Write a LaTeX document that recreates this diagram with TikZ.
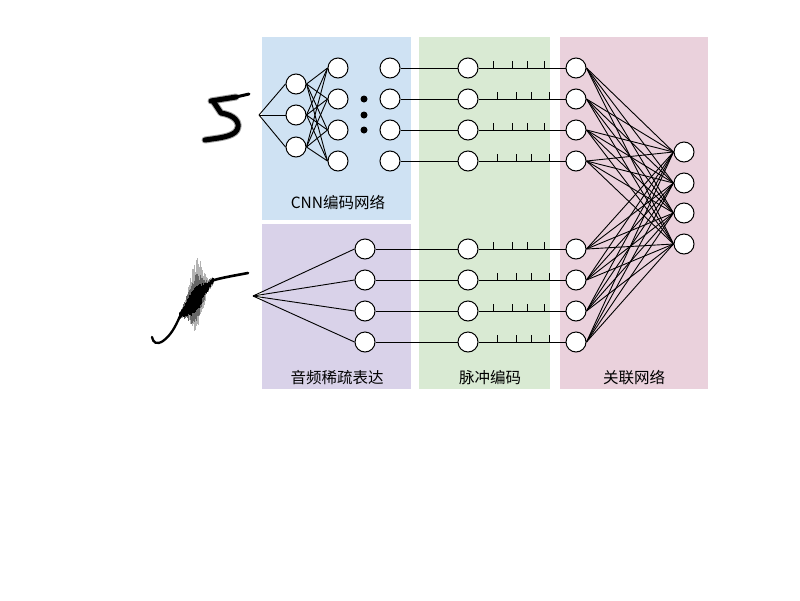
\documentclass[tikz,border=0pt]{standalone}
\usepackage{fontspec}
\setmainfont{Noto Sans CJK SC}
\definecolor{cnnblue}{HTML}{CFE2F3}
\definecolor{audpurple}{HTML}{D9D2E9}
\definecolor{spkgreen}{HTML}{D9EAD3}
\definecolor{assocpink}{HTML}{EAD1DC}
\begin{document}
\begin{tikzpicture}[x=1pt,y=-1pt,
  neuron/.style={circle,draw,fill=white,minimum size=20pt,inner sep=0pt,line width=1pt},
  dotn/.style={circle,fill=black,minimum size=7pt,inner sep=0pt},
  wire/.style={line width=0.9pt},
  lbl/.style={font=\fontsize{15.5}{18}\selectfont,inner sep=0pt},
  ink/.style={line cap=round,line join=round}]
\useasboundingbox (0,0) rectangle (800,600);
% panels
\fill[cnnblue] (262,37) rectangle (411,220);
\fill[audpurple] (262,224) rectangle (411,389);
\fill[spkgreen] (419,37) rectangle (550,389);
\fill[assocpink] (560,37) rectangle (708,389);
% labels
\node[lbl] (tcnn) at (338,202) {CNN编码网络};
\node[lbl] (taud) at (337,378) {音频稀疏表达};
\node[lbl] (tspk) at (490,378) {脉冲编码};
\node[lbl] (tass) at (634,378) {关联网络};
% neurons
\foreach \y [count=\i] in {84,115,147} \node[neuron] (a\i) at (296,\y) {};
\foreach \y [count=\i] in {68,99,130,161} \node[neuron] (b\i) at (338,\y) {};
\foreach \y [count=\i] in {99,115,130} \node[dotn] (e\i) at (364,\y) {};
\foreach \y [count=\i] in {68,99,130,161} \node[neuron] (c\i) at (390,\y) {};
\foreach \y [count=\i] in {249,280,311,342} \node[neuron] (d\i) at (365,\y) {};
\foreach \y [count=\i] in {68,99,130,161,249,280,311,342} \node[neuron] (g\i) at (468,\y) {};
\foreach \y [count=\i] in {68,99,130,161,249,280,311,342} \node[neuron] (p\i) at (576,\y) {};
\foreach \y [count=\i] in {152,183,213,244} \node[neuron] (o\i) at (684,\y) {};
\coordinate (fimg) at (259,115);
\coordinate (faud) at (253,296);
% connections
\foreach \i in {1,2,3} \draw[wire] (fimg) -- (a\i.west);
\foreach \i in {1,2,3} \foreach \j in {1,...,4} \draw[wire] (a\i.east) -- (b\j.west);
\foreach \i in {1,...,4} \draw[wire] (faud) -- (d\i.west);
\foreach \i in {1,...,4} \draw[wire] (c\i.east) -- (g\i.west);
\foreach \i [evaluate=\i as \k using int(\i+4)] in {1,...,4} \draw[wire] (d\i.east) -- (g\k.west);
\foreach \i in {1,...,8} \draw[wire] (g\i.east) -- (p\i.west);
\foreach \i in {1,...,8} \foreach \j in {1,...,4} \draw[wire] (p\i.east) -- (o\j.west);
% spike ticks
\foreach \y [count=\i] in {68,99,130,161,249,280,311,342} {
  \pgfmathtruncatemacro\odd{mod(\i,2)}
  \ifnum\odd=1 \def\ticks{493,512,527,544}\else\def\ticks{497,516,531,549}\fi
  \foreach \t in \ticks \draw[wire] (\t,\y) -- (\t,\y-7);
}
% handwritten digit 5
\begin{scope}[ink]
\draw[black!35,line width=7pt] (211,101) -- (236,97);
\draw[black!35,line width=7pt] (213,101) -- (221,113) .. controls (234,115) and (241,122) .. (237,130) .. controls (233,137) and (218,138) .. (205,140);
\draw[black,line width=5pt] (211,101) -- (236,97);
\draw[black,line width=3pt] (236,97) -- (249,94);
\draw[black,line width=5pt] (213,101) -- (221,113) .. controls (234,115) and (241,122) .. (237,130) .. controls (233,137) and (218,138) .. (205,140);
\end{scope}
% audio waveform
\pgfmathsetseed{11}
\foreach \i in {0,...,85} {
  \pgfmathsetmacro\xx{179+\i*0.4}
  \pgfmathsetmacro\cy{316-(\xx-179)*1.05}
  \pgfmathsetmacro\env{exp(-((\xx-196)/8)^2)}
  \pgfmathsetmacro\up{(4+38*\env)*(0.55+0.45*rnd)}
  \pgfmathsetmacro\dn{(4+30*\env)*(0.55+0.45*rnd)}
  \draw[black!30,line width=0.5pt] (\xx,\cy-\up) -- (\xx,\cy+\dn);
}
\foreach \i in {0,...,85} {
  \pgfmathsetmacro\xx{179+\i*0.4}
  \pgfmathsetmacro\cy{316-(\xx-179)*1.05}
  \pgfmathsetmacro\env{exp(-((\xx-195)/9)^2)}
  \pgfmathsetmacro\up{(3+22*\env)*(0.5+0.5*rnd)}
  \pgfmathsetmacro\dn{(3+22*\env)*(0.5+0.5*rnd)}
  \draw[black!60,line width=0.5pt] (\xx,\cy-\up) -- (\xx,\cy+\dn);
}
\foreach \i in {0,...,85} {
  \pgfmathsetmacro\xx{179+\i*0.4}
  \pgfmathsetmacro\cy{316-(\xx-179)*1.05}
  \pgfmathsetmacro\env{exp(-((\xx-195)/10)^2)}
  \pgfmathsetmacro\up{(2+11*\env)*(0.6+0.4*rnd)}
  \pgfmathsetmacro\dn{(2+13*\env)*(0.6+0.4*rnd)}
  \draw[black,line width=0.5pt] (\xx,\cy-\up) -- (\xx,\cy+\dn);
}
\begin{scope}[ink]
\draw[black,line width=2.3pt] (152,337) .. controls (153,343) and (157,345) .. (163,341) .. controls (170,336) and (175,328) .. (180,316);
\draw[black,line width=2.6pt] (211,281) .. controls (220,278) and (232,276) .. (248,273);
\end{scope}
\end{tikzpicture}
\end{document}
